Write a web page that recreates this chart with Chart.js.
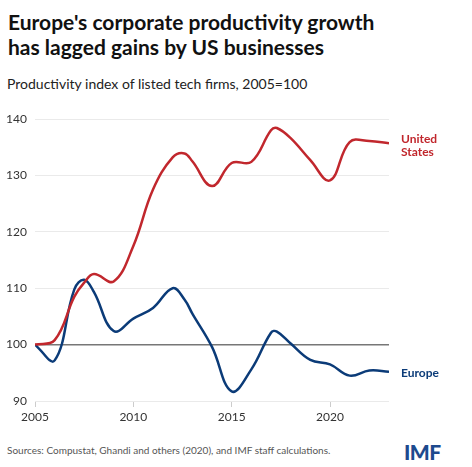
<!DOCTYPE html>
<html>
<head>
<meta charset="utf-8">
<script src="https://cdn.jsdelivr.net/npm/chart.js@4"></script>
<style>
  body { margin: 0; width: 472px; height: 467px; background: #fff; font-family: Lato, sans-serif; position: relative; overflow: hidden; }
  #title { position: absolute; left: 8px; top: 9px; font-size: 21px; font-weight: 700; line-height: 25px; color: #111; }
  #subtitle { position: absolute; left: 7px; top: 75px; font-size: 14px; color: #222; }
  #source { position: absolute; left: 7px; top: 444px; font-size: 10px; color: #555; }
  #logo { position: absolute; left: 404px; top: 439px; font-size: 21px; font-weight: 900; color: #1d4a8e; letter-spacing: -0.5px; }
  #wrap { position: absolute; left: 0; top: 100px; width: 472px; height: 335px; }
</style>
</head>
<body>
<div id="title">Europe's corporate productivity growth<br>has lagged gains by US businesses</div>
<div id="subtitle">Productivity index of listed tech firms, 2005=100</div>
<div id="wrap"><canvas id="chart"></canvas></div>
<div id="source">Sources: Compustat, Ghandi and others (2020), and IMF staff calculations.</div>
<div id="logo">IMF</div>
<script>
var years = [2005, 2006, 2007, 2007.5, 2008, 2009, 2010, 2011, 2012, 2012.6, 2013, 2014, 2015, 2016, 2017, 2017.3, 2018, 2019, 2020, 2021, 2022, 2023];
var us = [100, 100.8, 108.5, 111, 112.5, 111.2, 117.5, 127.5, 133.2, 133.9, 132.5, 128.1, 132.2, 132.4, 138, 138.4, 136.6, 132.7, 129.1, 135.9, 136.1, 135.7];
var europe = [100, 97.2, 109.8, 111.5, 109.3, 102.4, 104.6, 106.5, 110, 108, 105.5, 99.6, 91.7, 95.6, 102.1, 102.3, 100.2, 97.3, 96.5, 94.5, 95.4, 95.2];
var xTicks = [2005, 2010, 2015, 2020];
var seriesNames = [['United', 'States'], ['Europe']];

var usColor = '#c1272d';
var euColor = '#0b3b78';

function toPoints(values) {
  var pts = [];
  for (var i in values) {
    pts.push({ x: years[i], y: values[i] });
  }
  return pts;
}

var endLabels = {
  id: 'endLabels',
  afterDatasetsDraw: function(chart) {
    var ctx = chart.ctx;
    ctx.save();
    ctx.font = 'bold 12px Lato, sans-serif';
    ctx.textBaseline = 'middle';
    chart.data.datasets.forEach(function(ds, i) {
      var meta = chart.getDatasetMeta(i);
      var last = meta.data[meta.data.length - 1];
      var lines = seriesNames[i];
      ctx.fillStyle = ds.borderColor;
      var x = last.x + 12;
      var y0 = i == 0 ? last.y - 4 : last.y + 1;
      for (var j = 0; j < lines.length; j++) {
        ctx.fillText(lines[j], x, y0 + j * 13);
      }
    });
    ctx.restore();
  }
};

var ctx = document.getElementById('chart').getContext('2d');
var graph = new Chart(ctx, {
  type: 'line',
  data: {
    datasets: [{
      label: 'United States',
      data: toPoints(us),
      borderColor: usColor,
      borderWidth: 2.5,
      pointRadius: 0,
      tension: 0.4
    }, {
      label: 'Europe',
      data: toPoints(europe),
      borderColor: euColor,
      borderWidth: 2.5,
      pointRadius: 0,
      tension: 0.4
    }]
  },
  options: {
    responsive: true,
    maintainAspectRatio: false,
    animation: false,
    layout: { padding: { top: 19, right: 83, left: 0, bottom: 0 } },
    plugins: { legend: { display: false }, tooltip: { enabled: false } },
    scales: {
      x: {
        type: 'linear',
        min: 2005,
        max: 2023,
        afterFit: function(scale) { scale.height = 34; },
        afterBuildTicks: function(scale) {
          scale.ticks = xTicks.map(function(v) { return { value: v }; });
        },
        ticks: {
          color: '#333',
          font: { family: 'Lato, sans-serif', size: 12 },
          padding: 3,
          callback: function(v) { return String(v); }
        },
        grid: { drawOnChartArea: false, drawTicks: true, tickLength: 6, color: '#ccc' },
        border: { display: false }
      },
      y: {
        min: 90,
        max: 140,
        afterFit: function(scale) { scale.width = 35; },
        ticks: {
          stepSize: 10,
          color: '#333',
          font: { family: 'Lato, sans-serif', size: 12 },
          padding: 8
        },
        grid: {
          drawTicks: false,
          color: function(c) { return c.tick && c.tick.value == 100 ? '#777' : '#eaeaea'; },
          lineWidth: function(c) { return c.tick && c.tick.value == 100 ? 1.5 : 1; }
        },
        border: { display: false }
      }
    }
  },
  plugins: [endLabels]
});
</script>
</body>
</html>
